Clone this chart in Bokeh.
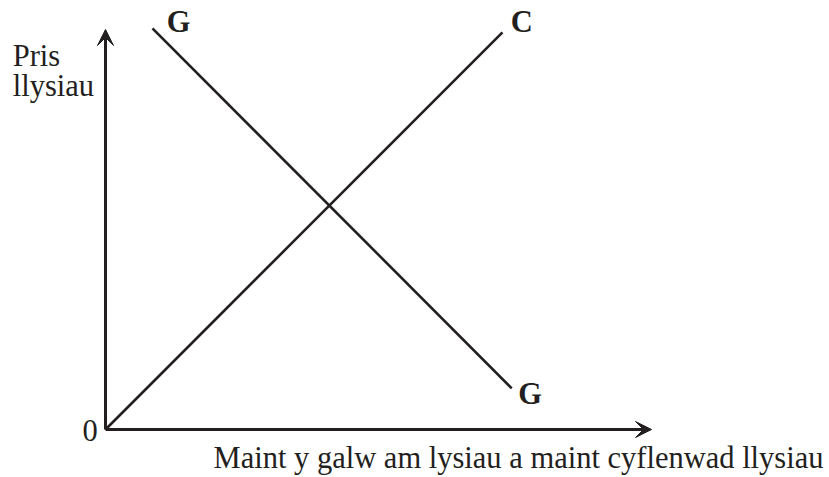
from bokeh.plotting import figure
from bokeh.models import Range1d, Arrow, VeeHead, ColumnDataSource
from bokeh.core.properties import value
from bokeh.embed import file_html
from bokeh.resources import INLINE

# Data (quantity units on x, price units on y; axes run 0..10)
axis_max_x = 10.0
axis_max_y = 10.0

supply_x = [0.0, 7.27]      # C
supply_y = [0.0, 9.93]
demand_x = [0.86, 7.44]     # G
demand_y = [10.03, 1.03]

curve_label_text = ["G", "C", "G"]
curve_label_x = [1.12, 7.42, 7.56]
curve_label_y = [10.18, 10.18, 0.88]

axis_label_text = ["Pris", "llysiau", "0", "Maint y galw am lysiau a maint cyflenwad llysiau"]
axis_label_x = [-1.70, -1.70, -0.42, 1.98]
axis_label_y = [9.35, 8.60, -0.02, -0.70]

INK = "#231f20"
SX = 54.6   # px per x unit
SY = 40.0   # px per y unit
OX, OY = 105, 429  # origin position in the picture
W, H = 829, 477

p = figure(width=W, height=H, output_backend="svg", toolbar_location=None,
           x_axis_type=None, y_axis_type=None, min_border=0,
           x_range=Range1d((0 - OX) / SX, (W - OX) / SX),
           y_range=Range1d((OY - H) / SY, OY / SY))
p.grid.visible = False
p.outline_line_color = None
p.background_fill_color = "white"
p.border_fill_color = "white"

# axes with arrowheads
p.add_layout(Arrow(x_start=0, y_start=0, x_end=axis_max_x, y_end=0,
                   line_width=3, line_color=INK,
                   end=VeeHead(size=16, fill_color=INK, line_color=INK, line_width=1)))
p.add_layout(Arrow(x_start=0, y_start=0, x_end=0, y_end=axis_max_y,
                   line_width=3, line_color=INK,
                   end=VeeHead(size=16, fill_color=INK, line_color=INK, line_width=1)))

p.line(supply_x, supply_y, line_width=2.6, line_color=INK)
p.line(demand_x, demand_y, line_width=2.6, line_color=INK)

src_c = ColumnDataSource(dict(x=curve_label_x, y=curve_label_y, t=curve_label_text))
p.text(x="x", y="y", text="t", source=src_c, text_font=value("Liberation Serif"),
       text_font_size="30.5px", text_font_style="bold", text_color=INK,
       text_align="left", text_baseline="alphabetic")

src_a = ColumnDataSource(dict(x=axis_label_x, y=axis_label_y, t=axis_label_text))
p.text(x="x", y="y", text="t", source=src_a, text_font=value("Liberation Serif"),
       text_font_size="30.5px", text_color=INK,
       text_align="left", text_baseline="alphabetic")

open("out.html", "w").write(file_html(p, INLINE))
